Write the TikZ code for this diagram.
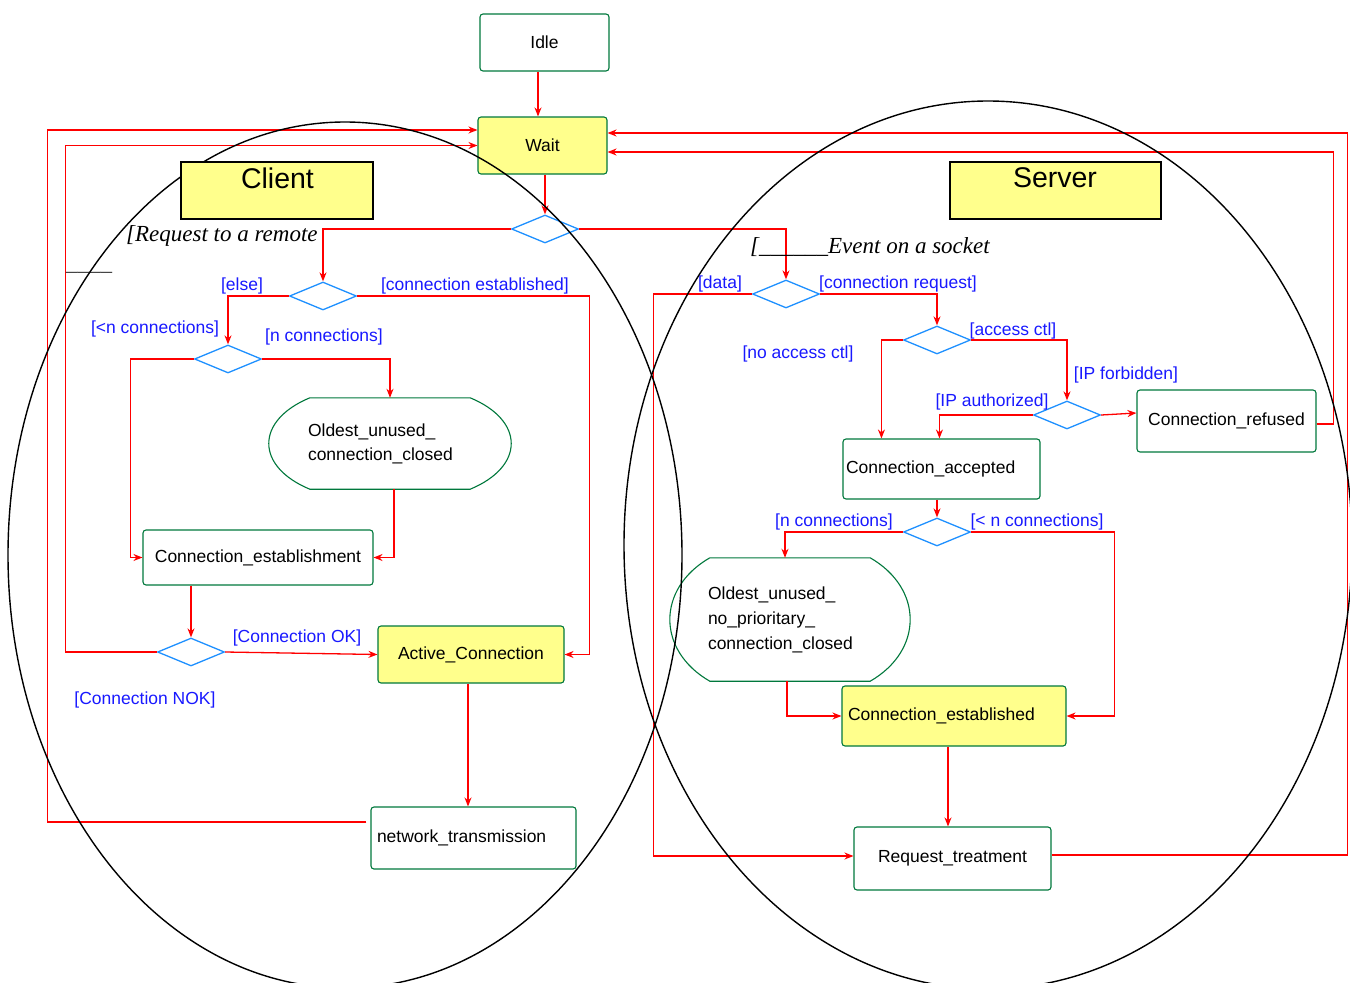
\documentclass[tikz,border=0pt]{standalone}
\usepackage{fontspec}
\setmainfont{Liberation Sans}
\newfontfamily\serifit{Liberation Serif}
\usetikzlibrary{shapes.geometric,arrows.meta}
\definecolor{nodegreen}{RGB}{0,120,60}
\definecolor{yel}{RGB}{255,255,140}
\definecolor{diablue}{RGB}{30,144,255}
\definecolor{lblblue}{RGB}{25,25,255}
\definecolor{arrred}{RGB}{255,0,0}
\begin{document}
\begin{tikzpicture}[x=1pt,y=-1pt,
  every node/.style={font=\fontsize{17.5}{24}\selectfont},
  st/.style={draw=nodegreen, line width=1.1pt, rounded corners=3pt, inner sep=0pt, fill=white},
  yst/.style={st, fill=yel},
  dia/.style={draw=diablue, line width=1.3pt, diamond, inner sep=0pt, minimum width=67pt, minimum height=28pt},
  lbl/.style={text=lblblue, inner sep=0pt},
  arr/.style={draw=arrred, line width=1.3pt, -{Stealth[length=9pt,width=7pt]}},
  itl/.style={anchor=base west, inner sep=0pt, font=\serifit\itshape\fontsize{23}{28}\selectfont},
  titlebox/.style={draw=black, line width=2pt, fill=yel, inner sep=0pt, minimum height=57pt},
  titletxt/.style={inner sep=0pt, font=\fontsize{28.5}{30}\selectfont},
  oval/.style={draw=nodegreen, line width=1.1pt}
]
\fill[white] (0,0) rectangle (1350,983);
\useasboundingbox (0,0) rectangle (1350,983);

% ---------- nodes ----------
\node[st, minimum width=129pt, minimum height=57pt] (idle) at (544.5,42.5) {Idle};
\node[yst, minimum width=129pt, minimum height=57pt] (wait) at (542.5,145.5) {Wait};
\node[dia] (d1) at (545,229) {};

% client
\node[dia] (d2) at (323,296) {};
\node[dia] (d4) at (228,359) {};
\node[inner xsep=39pt, inner ysep=0pt, minimum width=242pt, minimum height=91pt, align=left, text width=164pt] (old1) at (390,443.5) {Oldest\_unused\_\\connection\_closed};
\node[st, minimum width=230pt, minimum height=55pt] (ce) at (258,557.5) {Connection\_establishment};
\node[dia] (d5) at (191,652) {};
\node[yst, minimum width=186pt, minimum height=57pt] (ac) at (471,654.5) {Active\_Connection};
\node[st, minimum width=205pt, minimum height=62pt, align=left, text width=193pt, inner xsep=6pt] (nt) at (473.5,838) {network\_transmission};

% server
\node[dia] (d3) at (786,294) {};
\node[dia] (d6) at (937,340) {};
\node[dia] (d7) at (1067,415) {};
\node[st, minimum width=179pt, minimum height=62pt] (cr) at (1226.5,421) {Connection\_refused};
\node[st, minimum width=197pt, minimum height=60pt, align=left, text width=191pt, inner xsep=3pt] (ca) at (941.5,469) {Connection\_accepted};
\node[dia] (d8) at (937,532) {};
\node[inner xsep=38pt, inner ysep=0pt, minimum width=240pt, minimum height=123pt, align=left, text width=164pt, font=\fontsize{17.5}{25}\selectfont] (old2) at (790,619.5) {Oldest\_unused\_\\no\_prioritary\_\\connection\_closed};
\node[yst, minimum width=224pt, minimum height=60pt, align=left, text width=212pt, inner xsep=6pt] (ces) at (954,716) {Connection\_established};
\node[st, minimum width=197pt, minimum height=63pt] (rt) at (952.5,858.5) {Request\_treatment};

% oval outlines
\draw[oval] ([xshift=41pt]old1.north west) -- ([xshift=-41pt]old1.north east)
  .. controls ([xshift=13.7pt,yshift=-22.75pt]old1.north east) and ([xshift=13.7pt,yshift=22.75pt]old1.south east) .. ([xshift=-41pt]old1.south east)
  -- ([xshift=41pt]old1.south west)
  .. controls ([xshift=-13.7pt,yshift=22.75pt]old1.south west) and ([xshift=-13.7pt,yshift=-22.75pt]old1.north west) .. cycle;
\draw[oval] ([xshift=40pt]old2.north west) -- ([xshift=-40pt]old2.north east)
  .. controls ([xshift=13.3pt,yshift=-30.75pt]old2.north east) and ([xshift=13.3pt,yshift=30.75pt]old2.south east) .. ([xshift=-40pt]old2.south east)
  -- ([xshift=40pt]old2.south west)
  .. controls ([xshift=-13.3pt,yshift=30.75pt]old2.south west) and ([xshift=-13.3pt,yshift=-30.75pt]old2.north west) .. cycle;

% ---------- connectors ----------
\draw[arr] ([xshift=-6.5pt]idle.south) -- ([xshift=-4.5pt]wait.north);
\draw[arr] ([xshift=2.5pt]wait.south) -- (d1.north);
\draw[arr] (d1.west) -| (d2.north);
\draw[arr] (d1.east) -| (d3.north);
% client
\draw[arr] (d2.west) -| (d4.north);
\draw[arr] (d2.east) -| ([xshift=25pt]ac.east) -- (ac.east);
\draw[arr] (d4.east) -| (old1.north);
\draw[arr] (d4.west) -| ([xshift=-12pt]ce.west) -- (ce.west);
\draw[arr] ([xshift=4pt]old1.south) |- (ce.east);
\draw[arr] ([xshift=-67pt]ce.south) -- (d5.north);
\draw[arr] (d5.east) -- (ac.west);
\draw[arr] (d5.west) -| ([xshift=-412pt]wait.west) -- (wait.west);
\draw[arr] ([xshift=-3pt]ac.south) -- ([xshift=-5.5pt]nt.north);
\draw[arr] ([xshift=-4pt,yshift=16pt]nt.west) -| ([xshift=-430pt,yshift=15.5pt]wait.west) -- ([yshift=15.5pt]wait.west);
% server
\draw[arr] (d3.west) -| ([xshift=-200pt,yshift=2.5pt]rt.west) -- ([yshift=2.5pt]rt.west);
\draw[arr] (d3.east) -| (d6.north);
\draw[arr] (d6.west) -| ([xshift=39pt]ca.north west);
\draw[arr] (d6.east) -| (d7.north);
\draw[arr] (d7.east) -- ([yshift=8pt]cr.west);
\draw[arr] (d7.west) -| ([xshift=97pt]ca.north west);
\draw[arr] ([yshift=-3pt]cr.east) -| ([xshift=726pt,yshift=-6.5pt]wait.east) -- ([yshift=-6.5pt]wait.east);
\draw[arr] ([xshift=-4.5pt]ca.south) -- (d8.north);
\draw[arr] (d8.west) -| ([xshift=-5pt]old2.north);
\draw[arr] (d8.east) -| ([xshift=48pt]ces.east) -- (ces.east);
\draw[arr] ([xshift=-3pt]old2.south) |- (ces.west);
\draw[arr] ([xshift=-6pt]ces.south) -- ([xshift=-4.5pt]rt.north);
\draw[arr] ([yshift=3.5pt]rt.east) -| ([xshift=740pt,yshift=12.5pt]wait.east) -- ([yshift=12.5pt]wait.east);

% ---------- guard labels ----------
\node[lbl] (lelse) at (242,286) {[else]};
\node[lbl] (lce) at (475,286) {[connection established]};
\node[lbl] (llt) at (155,329) {[<n connections]};
\node[lbl] (lnc) at (324,337) {[n connections]};
\node[lbl] (lok) at (297,638) {[Connection OK]};
\node[lbl] (lnok) at (145,700) {[Connection NOK]};
\node[lbl] (ldata) at (720,284) {[data]};
\node[lbl] (lcr) at (898,284) {[connection request]};
\node[lbl] (lac) at (1013,331) {[access ctl]};
\node[lbl] (lnac) at (798,354) {[no access ctl]};
\node[lbl] (lipf) at (1126,375) {[IP forbidden]};
\node[lbl] (lipa) at (992,402) {[IP authorized]};
\node[lbl] (lnc2) at (834,522) {[n connections]};
\node[lbl] (llt2) at (1037,522) {[< n connections]};

% italic event texts
\node[itl] (req) at (126,241) {[Request to a remote};
\node[itl, text=black!75] (reqline) at (66,270) {\_\_\_\_};
\node[itl] (evt) at (750,253) {[\_\_\_\_\_\_Event on a socket};

% ---------- ellipses ----------
\begin{scope}
\clip (0,0) rectangle (1350,983);
\draw[line width=1.4pt] (345,555) ellipse [x radius=337pt, y radius=433pt];
\draw[line width=1.4pt] (988,545) ellipse [x radius=364pt, y radius=444pt];
\end{scope}

% ---------- title boxes ----------
\node[titlebox, minimum width=192pt] (clientbox) at (277,190.5) {};
\node[titletxt] (clienttxt) at (277.5,178) {Client};
\node[titlebox, minimum width=211pt] (serverbox) at (1055.5,190.5) {};
\node[titletxt] (servertxt) at (1055,178) {Server};
\end{tikzpicture}
\end{document}
